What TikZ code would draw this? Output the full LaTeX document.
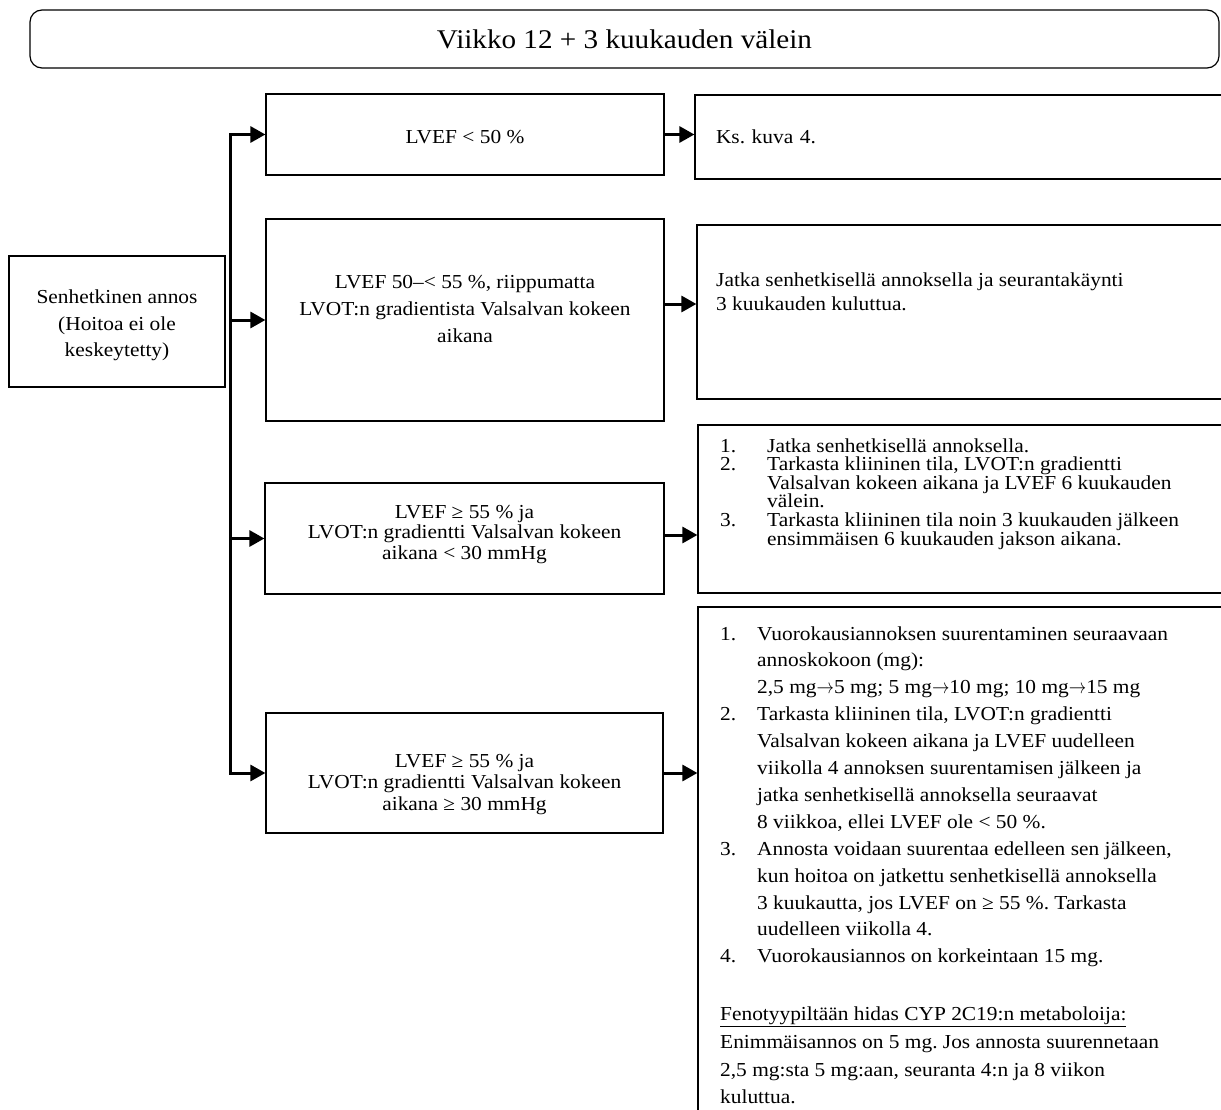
\documentclass[tikz,border=0pt]{standalone}
\usepackage{fontspec}
\setmainfont[FakeStretch=1.08]{Liberation Serif}
\usetikzlibrary{arrows.meta}
\frenchspacing
\newcommand{\arrowto}{\scalebox{0.84}[1]{$\rightarrow$}}

\begin{document}
\begin{tikzpicture}[x=1pt, y=-1pt,
  box/.style={draw, line width=1.2pt, inner sep=0pt},
  txt/.style={inner sep=0pt, align=center},
  body/.style={font=\fontsize{19.8}{#1}\selectfont},
  arr/.style={line width=3pt, -{Triangle[length=15pt, width=16pt]}}]
  \useasboundingbox (0,0) rectangle (1221,1110);
  \clip (0,0) rectangle (1221,1110);

  \node [box, rounded corners=12pt, minimum width=1189pt, minimum height=58pt,
    font=\fontsize{27}{33}\selectfont] (title) at (624.5,39) {Viikko 12 + 3 kuukauden välein};

  \node [box, minimum width=216pt, minimum height=131pt] (start) at (117,321.5) {};
  \node [txt, body=26.7] (starttext) at (117,325.5) {Senhetkinen annos\\(Hoitoa ei ole\\keskeytetty)};

  \node [box, minimum width=398pt, minimum height=81pt] (b1) at (465,134.5) {};
  \node [txt, body=26.7] (b1text) at (465,137.5) {LVEF < 50 \%};
  \node [box, minimum width=398pt, minimum height=202pt] (b2) at (465,320) {};
  \node [txt, body=27] (b2text) at (465,309)
    {LVEF 50–< 55 \%, riippumatta\\LVOT:n gradientista Valsalvan kokeen\\aikana};
  \node [box, minimum width=399pt, minimum height=111pt] (b3) at (464.5,538.5) {};
  \node [txt, body=20.5] (b3text) at (464.5,534.5)
    {LVEF ≥ 55 \% ja\\LVOT:n gradientti Valsalvan kokeen\\aikana < 30 mmHg};
  \node [box, minimum width=397pt, minimum height=120pt] (b4) at (464.5,773) {};
  \node [txt, body=21.5] (b4text) at (464.5,784.5)
    {LVEF ≥ 55 \% ja\\LVOT:n gradientti Valsalvan kokeen\\aikana ≥ 30 mmHg};

  \node [box, body=26.7, minimum width=545pt, minimum height=84pt, inner xsep=21pt,
    text width=503pt, align=left] (r1) at (967.5,137) {Ks. kuva 4.};
  \node [box, minimum width=543pt, minimum height=174pt] (r2) at (968.5,312) {};
  \node [txt, body=23.3, anchor=base west] (r2text) at (716,287)
    {\begin{tabular}[t]{@{}l@{}}Jatka senhetkisellä annoksella ja seurantakäynti\\3 kuukauden kuluttua.\end{tabular}};
  \node [box, minimum width=542pt, minimum height=168pt] (r3) at (969,509) {};
  \node [txt, body=18.6, anchor=base west] (r3text) at (720,452)
    {\begin{tabular}[t]{@{}p{47pt}@{}l@{}}
      \smash{1.} & \smash{Jatka senhetkisellä annoksella.}\\
      \smash{2.} & \smash{Tarkasta kliininen tila, LVOT:n gradientti}\\
         & \smash{Valsalvan kokeen aikana ja LVEF 6 kuukauden}\\
         & \smash{välein.}\\
      \smash{3.} & \smash{Tarkasta kliininen tila noin 3 kuukauden jälkeen}\\
         & \smash{ensimmäisen 6 kuukauden jakson aikana.}
    \end{tabular}};
  \node [box, minimum width=542pt, minimum height=520pt] (r4) at (969,867) {};
  \node [txt, body=26.9, anchor=base west] (r4text) at (720,640)
    {\begin{tabular}[t]{@{}p{37pt}@{}l@{}}
      1. & Vuorokausiannoksen suurentaminen seuraavaan\\
         & annoskokoon (mg):\\
         & 2,5 mg\arrowto5 mg; 5 mg\arrowto10 mg; 10 mg\arrowto15 mg\\
      2. & Tarkasta kliininen tila, LVOT:n gradientti\\
         & Valsalvan kokeen aikana ja LVEF uudelleen\\
         & viikolla 4 annoksen suurentamisen jälkeen ja\\
         & jatka senhetkisellä annoksella seuraavat\\
         & 8 viikkoa, ellei LVEF ole < 50 \%.\\
      3. & Annosta voidaan suurentaa edelleen sen jälkeen,\\
         & kun hoitoa on jatkettu senhetkisellä annoksella\\
         & 3 kuukautta, jos LVEF on ≥ 55 \%. Tarkasta\\
         & uudelleen viikolla 4.\\
      4. & Vuorokausiannos on korkeintaan 15 mg.\\[31pt]
      \multicolumn{2}{@{}l@{}}{\underline{Fenotyypiltään hidas CYP 2C19:n metaboloija:}}\\[0.8pt]
      \multicolumn{2}{@{}l@{}}{Enimmäisannos on 5 mg. Jos annosta suurennetaan}\\[0.8pt]
      \multicolumn{2}{@{}l@{}}{2,5 mg:sta 5 mg:aan, seuranta 4:n ja 8 viikon}\\[0.8pt]
      \multicolumn{2}{@{}l@{}}{kuluttua.}
    \end{tabular}};

  \coordinate (bus) at ([xshift=5pt]start.east);
  \draw [arr] (bus |- b2.west) |- (b1.west);
  \draw [arr] (bus |- b2.west) |- (b4.west);
  \draw [arr] (bus |- b2.west) -- (b2.west);
  \draw [arr] (bus |- b3.west) -- (b3.west);
  \draw [arr] (b1.east) -- (b1.east -| r1.west);
  \draw [arr] ([yshift=16pt]b2.east) -- ([yshift=16pt]b2.east -| r2.west);
  \draw [arr] ([yshift=3.5pt]b3.east) -- ([yshift=3.5pt]b3.east -| r3.west);
  \draw [arr] (b4.east) -- (b4.east -| r4.west);
\end{tikzpicture}
\end{document}
